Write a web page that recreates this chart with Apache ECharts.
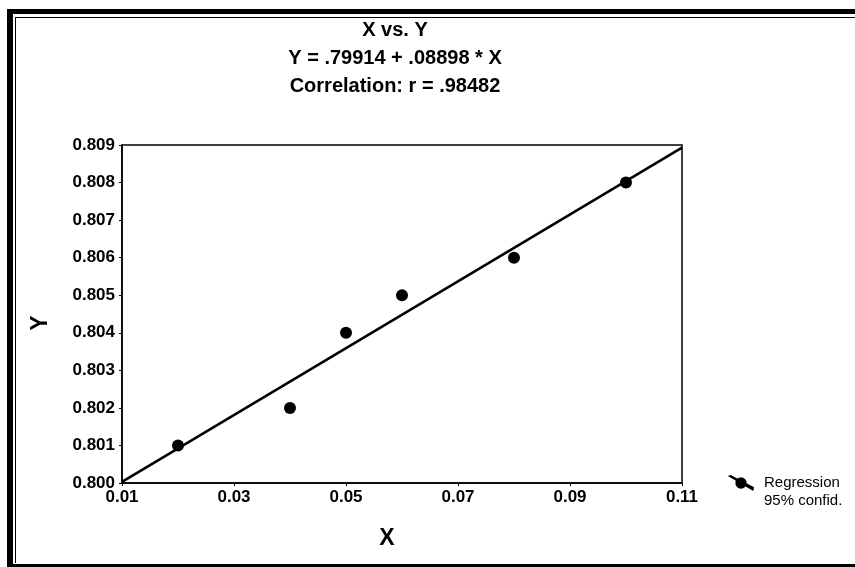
<!DOCTYPE html>
<html>
<head>
	<meta charset="utf-8">
	<title>X vs. Y</title>
	<style type="text/css">
		body{
			margin: 0px;
			background: #fff;
		}
		.frame{
			position: absolute;
			left: 7px;
			top: 9px;
			width: 900px;
			height: 550px;
			border-left: 6px solid #000;
			border-top: 5px solid #000;
			border-bottom: 3px solid #000;
		}
		.frame .inner{
			position: absolute;
			left: 2px;
			top: 3px;
			right: 0px;
			bottom: 1px;
			border-left: 1px solid #000;
			border-top: 1px solid #000;
		}
		.chart{
			position: absolute;
			left: 0px;
			top: 0px;
			width: 855px;
			height: 567px;
		}
	</style>
	<script type="text/javascript" src="https://cdn.jsdelivr.net/npm/echarts@6/dist/echarts.min.js"></script>
</head>
<body>
	<div class="frame"><div class="inner"></div></div>
	<div id="chart" class="chart"></div>
	<script type="text/javascript">
		// observed points
		var xs = [0.02, 0.04, 0.05, 0.06, 0.08, 0.10];
		var ys = [0.801, 0.802, 0.804, 0.805, 0.806, 0.808];
		// regression line ends
		var lineX = [0.01, 0.11];
		var lineY = [0.80003, 0.80893];
		var xTicks = [0.01, 0.03, 0.05, 0.07, 0.09, 0.11];
		var yTicks = [0.800, 0.801, 0.802, 0.803, 0.804, 0.805, 0.806, 0.807, 0.808, 0.809];
		var titleLines = ['X vs. Y', 'Y = .79914 + .08898 * X', 'Correlation: r = .98482'];
		var legendNames = ['Regression', '95% confid.'];

		var font = 'Liberation Sans, Arial, sans-serif';
		// slanted line with a dot on it
		var icon = 'path://M0,0 L3,-1 L28,12 L27,16 Z M8,7.5 A6,6 0 1,1 20,7.5 A6,6 0 1,1 8,7.5 Z';

		window.onload = function(){
			var chart = echarts.init(document.getElementById('chart'));
			var pts = [];
			for(var i = 0; i < xs.length; i++){
				pts.push([xs[i], ys[i]]);
			}
			var line = [];
			for(var j = 0; j < lineX.length; j++){
				line.push([lineX[j], lineY[j]]);
			}
			chart.setOption({
				animation: false,
				title: {
					text: titleLines.join('\n'),
					left: 390,
					top: 11,
					textAlign: 'center',
					textStyle: {
						fontFamily: font,
						fontSize: 20,
						fontWeight: 'bold',
						color: '#000',
						lineHeight: 28
					}
				},
				legend: {
					data: [{name: legendNames[0], icon: icon}, {name: legendNames[1], icon: 'none'}],
					orient: 'vertical',
					left: 722,
					top: 470,
					itemWidth: 28,
					itemHeight: 16,
					itemGap: 2,
					selectedMode: false,
					textStyle: {
						fontFamily: font,
						fontSize: 15,
						color: '#000',
						padding: [0, 0, 0, 4]
					}
				},
				grid: {
					left: 122,
					right: 173,
					top: 145,
					bottom: 84,
					show: true,
					borderColor: '#000',
					borderWidth: 1.5
				},
				xAxis: {
					type: 'value',
					min: 0.01,
					max: 0.11,
					name: 'X',
					nameLocation: 'middle',
					nameGap: 44,
					nameTextStyle: {
						fontFamily: font,
						fontSize: 23,
						fontWeight: 'bold',
						color: '#000',
						padding: [0, 30, 0, 0]
					},
					axisLine: {lineStyle: {color: '#000', width: 1.5}},
					axisTick: {customValues: xTicks, length: 3, lineStyle: {color: '#000'}},
					axisLabel: {
						customValues: xTicks,
						formatter: function(v){ return v.toFixed(2); },
						fontFamily: font,
						fontSize: 17,
						fontWeight: 'bold',
						color: '#000',
						margin: 6
					},
					splitLine: {show: false}
				},
				yAxis: {
					type: 'value',
					min: 0.8,
					max: 0.809,
					name: 'Y',
					nameLocation: 'middle',
					nameGap: 70,
					nameTextStyle: {
						fontFamily: font,
						fontSize: 23,
						fontWeight: 'bold',
						color: '#000',
						padding: [0, 18, 0, 0]
					},
					axisLine: {lineStyle: {color: '#000', width: 1.5}},
					axisTick: {customValues: yTicks, length: 3, lineStyle: {color: '#000'}},
					axisLabel: {
						customValues: yTicks,
						formatter: function(v){ return v.toFixed(3); },
						fontFamily: font,
						fontSize: 17,
						fontWeight: 'bold',
						color: '#000',
						margin: 7
					},
					splitLine: {show: false}
				},
				series: [{
					name: legendNames[0],
					type: 'line',
					data: line,
					symbol: 'none',
					lineStyle: {color: '#000', width: 2.5},
					itemStyle: {color: '#000'}
				}, {
					// listed in the legend, no band drawn in the picture
					name: legendNames[1],
					type: 'line',
					data: [],
					itemStyle: {color: '#000'}
				}, {
					name: 'points',
					type: 'scatter',
					data: pts,
					symbol: 'circle',
					symbolSize: 12,
					itemStyle: {color: '#000', opacity: 1}
				}]
			});
		};
	</script>
</body>
</html>
